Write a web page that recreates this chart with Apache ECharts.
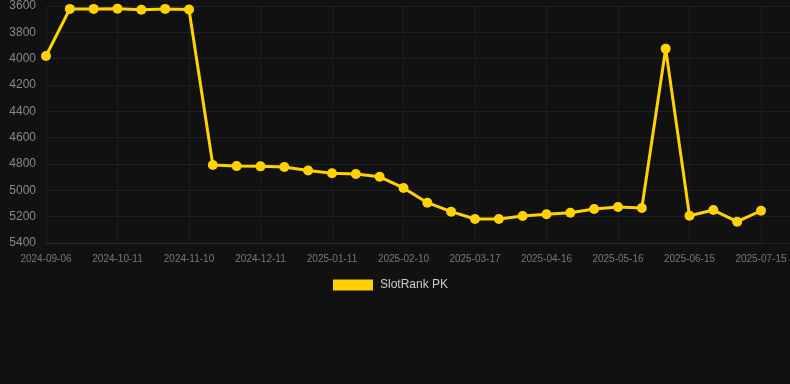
<!DOCTYPE html>
<html>
<head>
<meta charset="utf-8">
<script src="https://cdn.jsdelivr.net/npm/echarts@6/dist/echarts.min.js"></script>
<style>
html,body{margin:0;padding:0;background:#111111;}
#c{width:790px;height:384px;}
</style>
</head>
<body>
<div id="c"></div>
<script>
const categories = ['2024-09-06','2024-09-18','2024-09-30','2024-10-11','2024-10-21','2024-10-31','2024-11-10','2024-11-20','2024-12-01','2024-12-11','2024-12-21','2025-01-01','2025-01-11','2025-01-21','2025-01-31','2025-02-10','2025-02-22','2025-03-05','2025-03-17','2025-03-27','2025-04-06','2025-04-16','2025-04-26','2025-05-06','2025-05-16','2025-05-26','2025-06-05','2025-06-15','2025-06-25','2025-07-05','2025-07-15'];
const rankValues = [3980,3622,3622,3620,3628,3622,3626,4808,4816,4818,4823,4850,4870,4876,4897,4982,5094,5162,5218,5218,5195,5182,5170,5142,5127,5134,3924,5193,5150,5238,5155];
const seriesName = 'SlotRank PK';
const yMin = 3600, yMax = 5400, yStep = 200;

const font = 'Arial, Liberation Sans, sans-serif';
const chart = echarts.init(document.getElementById('c'));
chart.setOption({
  backgroundColor: '#111111',
  animation: false,
  grid: [
    {left: 46, right: 29, top: 6, bottom: 141},
    {left: 46, right: 0, top: 6, bottom: 141}
  ],
  legend: {
    data: [seriesName],
    top: 274,
    left: 328,
    itemWidth: 40,
    itemHeight: 11,
    icon: 'rect',
    textStyle: {color: '#cccccc', fontSize: 12, fontFamily: font, padding: [0, 0, 0, 2]}
  },
  xAxis: [{
    type: 'category',
    gridIndex: 0,
    data: categories,
    boundaryGap: false,
    axisLine: {show: true, lineStyle: {color: '#2e2e2e'}},
    axisTick: {show: false},
    axisLabel: {interval: 2, color: '#777777', fontSize: 10, margin: 11, fontFamily: font},
    splitLine: {show: true, interval: 2, lineStyle: {color: '#1d1d1d'}}
  }, {
    type: 'value',
    gridIndex: 1,
    show: false,
    min: 0, max: 1
  }],
  yAxis: [{
    type: 'value',
    gridIndex: 0,
    inverse: true,
    min: yMin, max: yMax, interval: yStep,
    axisLine: {show: false},
    axisTick: {show: false},
    axisLabel: {color: '#888888', fontSize: 12, margin: 10, fontFamily: font, formatter: v => String(v)},
    splitLine: {show: false}
  }, {
    type: 'value',
    gridIndex: 1,
    inverse: true,
    min: yMin, max: yMax, interval: yStep,
    axisLine: {show: false},
    axisTick: {show: false},
    axisLabel: {show: false},
    splitLine: {show: true, lineStyle: {color: '#202020'}}
  }],
  series: [{
    name: seriesName,
    type: 'line',
    xAxisIndex: 0,
    yAxisIndex: 0,
    data: rankValues,
    symbol: 'circle',
    symbolSize: 10,
    z: 5,
    lineStyle: {color: '#FFD200', width: 3},
    itemStyle: {color: '#FFD200'}
  }]
});
</script>
</body>
</html>
